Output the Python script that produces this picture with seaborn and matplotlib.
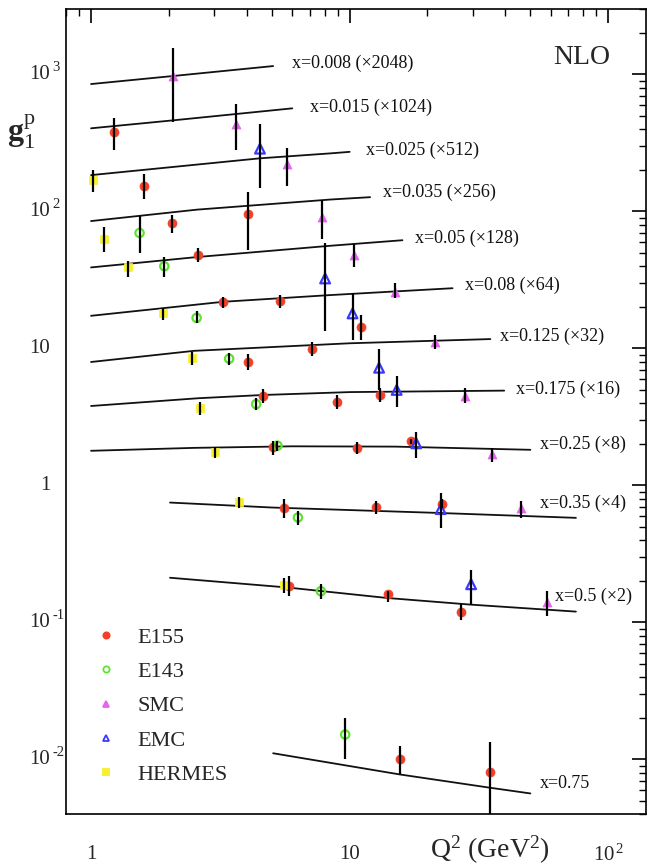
import matplotlib
matplotlib.use("Agg")
import matplotlib.pyplot as plt
import seaborn as sns
import pandas as pd
from matplotlib.lines import Line2D

# ---------------- data ----------------
# E155
e155_q2 = [1.23, 1.60, 2.06, 4.04, 2.59, 3.25, 5.39, 11.05, 4.04, 7.18, 4.64, 8.92, 13.1,
           5.05, 10.7, 17.3, 5.55, 12.7, 22.7, 5.82, 14.1, 27.0, 15.7, 34.9]
e155_g = [379, 153.6, 81.7, 95.4, 48, 21.9, 22.3, 14.4, 8.0, 9.91, 4.52, 4.09, 4.57,
          1.92, 1.87, 2.11, 0.69, 0.695, 0.734, 0.185, 0.16, 0.12, 0.0101, 0.0081]
e155_lo = [282, 123, 69, 52.1, 42.5, 19.6, 19.6, 11.5, 6.97, 8.81, 3.98, 3.6, 4.09,
           1.67, 1.7, 2.0, 0.578, 0.618, 0.68, 0.157, 0.14, 0.105, 0.00778, 0.003]
e155_hi = [481, 187, 93.8, 138, 53.7, 23.8, 24.5, 17.5, 9.06, 11.2, 5.03, 4.57, 5.12,
           2.11, 2.06, 2.2, 0.798, 0.764, 0.8, 0.217, 0.171, 0.136, 0.0125, 0.0134]

# E143
e143_q2 = [1.54, 1.92, 2.56, 3.42, 4.35, 5.26, 6.31, 7.74, 9.61]
e143_g = [69.6, 39.8, 16.7, 8.41, 3.92, 1.95, 0.583, 0.169, 0.0152]
e143_lo = [49.3, 33.3, 15.2, 7.57, 3.56, 1.79, 0.516, 0.148, 0.010]
e143_hi = [92.2, 46.1, 18.7, 9.3, 4.33, 2.11, 0.646, 0.192, 0.0201]

# SMC
smc_q2 = [2.08, 3.62, 5.71, 7.83, 10.4, 15.0, 21.4, 28.0, 35.5, 45.9, 57.9]
smc_g = [967, 437, 220, 91.2, 48, 25.9, 11.2, 4.5, 1.69, 0.682, 0.14]
smc_lo = [449, 282, 153, 62.4, 39.4, 23.2, 9.9, 3.98, 1.48, 0.583, 0.111]
smc_hi = [1555, 608, 290, 122, 58.3, 29.8, 12.5, 5.1, 1.87, 0.776, 0.171]

# EMC
emc_q2 = [4.5, 8.04, 10.26, 13.0, 15.2, 18.1, 22.5, 29.5]
emc_g = [287, 32.4, 18.0, 7.23, 4.98, 2.03, 0.672, 0.19]
emc_lo = [147, 13.3, 11.5, 4.98, 3.76, 1.58, 0.489, 0.135]
emc_hi = [437, 58.6, 25.2, 9.9, 6.32, 2.47, 0.879, 0.243]

# HERMES
her_q2 = [1.015, 1.12, 1.39, 1.90, 2.46, 2.64, 3.02, 3.75, 5.55]
her_g = [169, 63.4, 39.4, 18.0, 8.55, 3.66, 1.74, 0.755, 0.188]
her_lo = [139, 50.7, 33.3, 16.1, 7.57, 3.24, 1.58, 0.684, 0.165]
her_hi = [200, 76.4, 43.6, 19.8, 9.46, 4.05, 1.92, 0.822, 0.21]

# NLO curves (Q2, g1 scaled)
curve_names = ["x=0.008 (\u00d72048)", "x=0.015 (\u00d71024)", "x=0.025 (\u00d7512)",
               "x=0.035 (\u00d7256)", "x=0.05 (\u00d7128)", "x=0.08 (\u00d764)",
               "x=0.125 (\u00d732)", "x=0.175 (\u00d716)", "x=0.25 (\u00d78)",
               "x=0.35 (\u00d74)", "x=0.5 (\u00d72)", "x=0.75"]
curve_q2 = [
    [1, 2.1, 5.06],
    [1, 2.08, 6.0],
    [1, 4.5, 8.4, 10],
    [1, 2.57, 8.4, 12],
    [1, 2.59, 8.4, 16],
    [1, 3.25, 8.4, 25],
    [1, 2.5, 10, 35],
    [1, 2.6, 4.6, 10, 39.6],
    [1, 2.5, 6, 15, 50],
    [2.02, 5, 22, 75],
    [2.02, 5.74, 13.9, 29.3, 75],
    [5.06, 15.6, 34.9, 50],
]
curve_g = [
    [850, 975, 1150],
    [404, 462, 565],
    [184, 244, 265, 272],
    [85, 103, 122, 127],
    [39, 46.5, 56.1, 61.6],
    [17.3, 21.9, 24.5, 27.5],
    [7.96, 9.6, 10.9, 11.7],
    [3.8, 4.33, 4.57, 4.8, 4.92],
    [1.79, 1.88, 1.93, 1.92, 1.82],
    [0.75, 0.69, 0.63, 0.58],
    [0.212, 0.18, 0.151, 0.135, 0.12],
    [0.0111, 0.00778, 0.00622, 0.00565],
]
label_q2 = [5.98, 7.03, 11.55, 13.5, 17.9, 28, 38.2, 44, 54.3, 54.3, 62.4, 54.3]
label_g = [1203, 578, 279, 137, 64.1, 29, 12.2, 5.04, 2.01, 0.743, 0.155, 0.00668]

y_ticks = [0.01, 0.1, 1, 10, 100, 1000]
y_tick_labels = [("10", "-2"), ("10", "-1"), ("1", ""), ("10", ""), ("10", "2"), ("10", "3")]
x_ticks = [1, 10, 100]
x_tick_labels = ["1", "10", "10$^{\\,2}$"]

# ---------------- style ----------------
sns.set_theme(style="white")
plt.rcParams["font.family"] = ["Liberation Serif", "DejaVu Serif"]
plt.rcParams["mathtext.fontset"] = "custom"
plt.rcParams["mathtext.rm"] = "Liberation Serif"
plt.rcParams["mathtext.it"] = "Liberation Serif:italic"
plt.rcParams["mathtext.bf"] = "Liberation Serif:bold"

fig = plt.figure(figsize=(6.48, 8.65), dpi=100)
ax = fig.add_axes([66 / 648, 51 / 865, 580 / 648, 805 / 865])
ax.set_xscale("log")
ax.set_yscale("log")
ax.set_xlim(0.80, 140)
ax.set_ylim(0.004, 3000)

# curves
for q, g in zip(curve_q2, curve_g):
    sns.lineplot(x=q, y=g, ax=ax, color="#111111", lw=1.3, sort=False,
                 estimator=None, zorder=1)

for name, q, g in zip(curve_names, label_q2, label_g):
    ax.text(q, g, name, fontsize=13, ha="left", va="center", color="#111111")

# experiments
exps = [
    ("E155", e155_q2, e155_g, e155_lo, e155_hi, "o", "#f2402a", True, 6.5),
    ("E143", e143_q2, e143_g, e143_lo, e143_hi, "o", "#5fe332", False, 6),
    ("SMC", smc_q2, smc_g, smc_lo, smc_hi, "^", "#e565f0", True, 6.5),
    ("EMC", emc_q2, emc_g, emc_lo, emc_hi, "^", "#3a3aff", False, 7),
    ("HERMES", her_q2, her_g, her_lo, her_hi, "s", "#f7f02a", True, 6),
]
handles = []
for name, q, g, lo, hi, m, c, filled, ms in exps:
    df = pd.DataFrame({"q2": q, "g": g})
    if filled:
        sns.scatterplot(data=df, x="q2", y="g", ax=ax, marker=m, color=c, s=ms ** 2,
                        edgecolor=c, linewidth=0.5, zorder=2, legend=False)
    else:
        sns.scatterplot(data=df, x="q2", y="g", ax=ax, marker=m, facecolor="none",
                        edgecolor=c, s=ms ** 2, linewidth=1.6, zorder=2, legend=False)
    ax.vlines(q, lo, hi, color="black", lw=1.6, zorder=3)
    handles.append(Line2D([], [], ls="none", marker=m, markersize=4.5,
                          markerfacecolor=c if filled else "none",
                          markeredgecolor=c, markeredgewidth=1.3, label=name))

leg = ax.legend(handles=handles, loc="upper left", bbox_to_anchor=(0.035, 0.243),
                frameon=False, fontsize=16, handlelength=1.0, handletextpad=0.9,
                labelspacing=0.62, borderaxespad=0)

# axes styling
for s in ax.spines.values():
    s.set_color("black")
    s.set_linewidth(1.2)
ax.tick_params(which="both", direction="in", top=True, right=True, color="black")
ax.tick_params(which="major", length=10, width=1.2)
ax.tick_params(which="minor", length=5, width=1.0)
ax.set_yticks(y_ticks)
ax.set_yticklabels([])
ax.set_xticks(x_ticks)
ax.set_xticklabels(x_tick_labels, fontsize=15)
ax.tick_params(axis="x", which="major", pad=22)
ax.set_xlabel("")
ax.set_ylabel("")

ytr = ax.get_yaxis_transform()
for yv, (base, sup) in zip(y_ticks, y_tick_labels):
    ax.text(-0.027, yv, base, transform=ytr, ha="right", va="center", fontsize=15)
    if sup:
        ax.text(-0.023, yv, sup, transform=ytr, ha="left", va="bottom", fontsize=10.5)

fig.text(21 / 648, 1 - 132 / 865, r"$\mathbf{g}_{\mathrm{1}}^{\mathrm{p}}$", fontsize=23,
         ha="center", va="center")
fig.text(490 / 648, 1 - 850 / 865, r"Q$^{2}$ (GeV$^{2}$)", fontsize=20,
         ha="center", va="center")
fig.text(582 / 648, 1 - 57 / 865, "NLO", fontsize=20, ha="center", va="center")

fig.savefig("out.png", dpi=100)
